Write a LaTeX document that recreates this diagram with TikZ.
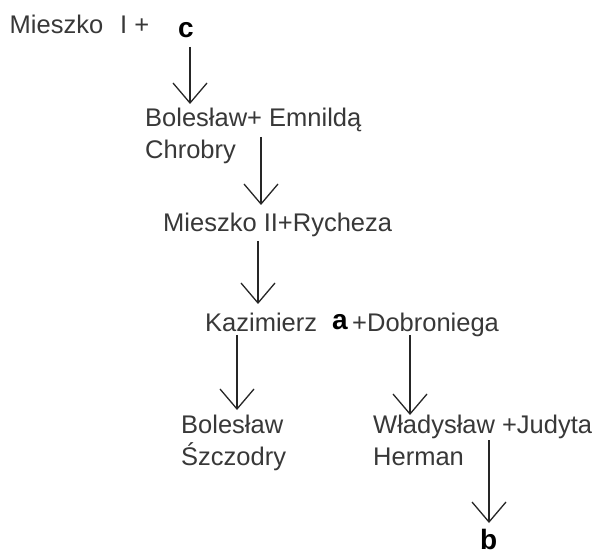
\documentclass[tikz,border=0pt]{standalone}
\usepackage{fontspec}
\setmainfont{Liberation Sans}
\usetikzlibrary{arrows.meta}
\begin{document}
\begin{tikzpicture}[x=1pt,y=-1pt,
  lbl/.style={anchor=base west, inner sep=0pt, text=black!78, font=\fontsize{25.5}{30}\selectfont},
  letterlbl/.style={anchor=base west, inner sep=0pt, text=black, font=\fontsize{28}{32}\selectfont\bfseries},
  arr/.style={draw=black!85, line width=1.3pt, -{Straight Barb[length=20pt,width=34pt]}}]
\useasboundingbox (0,0) rectangle (595,556);
\fill[white] (0,0) rectangle (595,556);
% texts
\node[lbl] (m1) at (9.5,34) {Mieszko\hspace{17pt}I\hspace{7pt}+};
\node[letterlbl] (c) at (178,38) {c};
\node[lbl] (b1) at (145,127) {Bolesław+ Emnildą};
\node[lbl] (b1b) at (145,159) {Chrobry};
\node[lbl] (m2) at (163,232) {Mieszko II+Rycheza};
\node[lbl] (k) at (205,332) {Kazimierz};
\node[letterlbl] (a) at (332,330) {a};
\node[lbl] (d) at (352,332) {+Dobroniega};
\node[lbl] (b2) at (181,433) {Bolesław};
\node[lbl] (b2b) at (181,465) {Śzczodry};
\node[lbl] (w) at (373,433) {Władysław +Judyta};
\node[lbl] (wb) at (373,465) {Herman};
\node[letterlbl] (b) at (480,549) {b};
% connector ends
\coordinate (s1) at (190,47);  \coordinate (e1) at (190,104);
\coordinate (s2) at (261,137); \coordinate (e2) at (261,205);
\coordinate (s3) at (258,241); \coordinate (e3) at (258,304);
\coordinate (s4) at (237,335); \coordinate (e4) at (237,410);
\coordinate (s5) at (410,335); \coordinate (e5) at (410,415);
\coordinate (s6) at (489,440); \coordinate (e6) at (489,523);
\draw[arr] (s1) -- (e1);
\draw[arr] (s2) -- (e2);
\draw[arr] (s3) -- (e3);
\draw[arr] (s4) -- (e4);
\draw[arr] (s5) -- (e5);
\draw[arr] (s6) -- (e6);
\end{tikzpicture}
\end{document}
